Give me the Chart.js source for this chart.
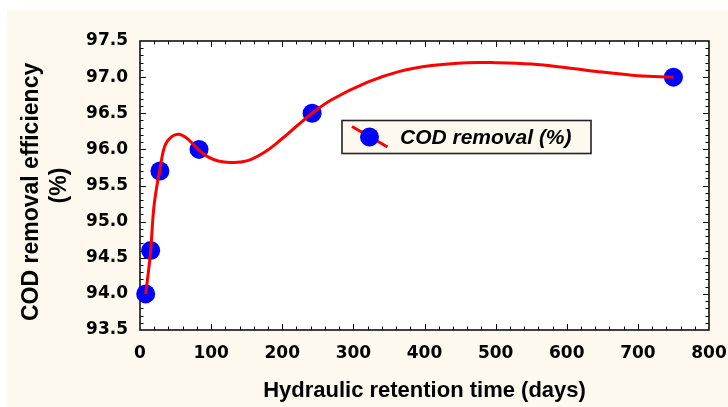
<!DOCTYPE html>
<html>
<head>
<meta charset="utf-8">
<script src="https://cdn.jsdelivr.net/npm/chart.js@4/dist/chart.umd.min.js"></script>
<style>
  html, body { margin: 0; padding: 0; background: #ffffff; }
  #wrap { width: 728px; height: 407px; }
</style>
</head>
<body>
<div id="wrap"><canvas id="c" width="728" height="407"></canvas></div>
<script>
// ---- data ----
const hrtDays    = [8, 15, 28, 83, 242, 750];
const codRemoval = [94.0, 94.6, 95.7, 96.0, 96.5, 97.0];

// fitted smooth curve
const fitDays    = [8, 12, 15, 19, 23, 28, 35, 45, 55, 65, 75, 83, 95, 110, 127, 150, 175, 200, 220, 242, 270, 320, 365, 410, 460, 500, 550, 600, 650, 700, 750];
const fitRemoval = [94.0, 94.32, 94.6, 95.15, 95.45, 95.72, 96.05, 96.18, 96.21, 96.16, 96.07, 95.99, 95.9, 95.84, 95.82, 95.84, 95.96, 96.15, 96.32, 96.50, 96.69, 96.93, 97.08, 97.16, 97.20, 97.20, 97.18, 97.13, 97.07, 97.02, 97.00];

const seriesLabel = 'COD removal (%)';
const xTitle = 'Hydraulic retention time (days)';
const yTitle = ['COD removal efficiency  ', '(%)'];
const xRange = [0, 800, 100, 20];      // min, max, major step, minor step
const yRange = [93.5, 97.5, 0.5, 0.1];

const BG = '#fdf9ee';
const TICK_FONT = { family: 'DejaVu Sans', weight: 'bold', size: 17 };
const TITLE_FONT = { family: 'Liberation Sans', weight: 'bold', size: 22 };

const decorPlugin = {
  id: 'decor',
  beforeDraw(chart) {
    const { ctx, width, height, chartArea: a } = chart;
    ctx.save();
    ctx.fillStyle = '#ffffff';
    ctx.fillRect(0, 0, width, height);
    ctx.fillStyle = BG;
    ctx.fillRect(7, 10, width - 7, height - 10);
    ctx.fillStyle = '#ffffff';
    ctx.fillRect(a.left, a.top, a.right - a.left, a.bottom - a.top);
    ctx.restore();
  },
  beforeDatasetsDraw(chart) {
    const { ctx, chartArea: a, scales } = chart;
    const xs = scales.x, ys = scales.y;
    ctx.save();
    ctx.strokeStyle = '#000000';
    ctx.lineWidth = 1;
    const nx = Math.round((xRange[1] - xRange[0]) / xRange[3]);
    const perX = Math.round(xRange[2] / xRange[3]);
    for (let i = 1; i < nx; i++) {
      const v = xRange[0] + i * xRange[3];
      const px = Math.round(xs.getPixelForValue(v)) + 0.5;
      const len = (i % perX === 0) ? 6 : 3.5;
      ctx.beginPath();
      ctx.moveTo(px, a.bottom); ctx.lineTo(px, a.bottom - len);
      ctx.moveTo(px, a.top); ctx.lineTo(px, a.top + len);
      ctx.stroke();
    }
    const ny = Math.round((yRange[1] - yRange[0]) / yRange[3]);
    const perY = Math.round(yRange[2] / yRange[3]);
    for (let i = 1; i < ny; i++) {
      const v = yRange[0] + i * yRange[3];
      const py = Math.round(ys.getPixelForValue(v)) + 0.5;
      const len = (i % perY === 0) ? 6 : 3.5;
      ctx.beginPath();
      ctx.moveTo(a.left, py); ctx.lineTo(a.left + len, py);
      ctx.moveTo(a.right, py); ctx.lineTo(a.right - len, py);
      ctx.stroke();
    }
    ctx.lineWidth = 1.6;
    ctx.strokeStyle = '#111111';
    ctx.strokeRect(a.left, a.top, a.right - a.left, a.bottom - a.top);
    ctx.restore();
  },
  afterDraw(chart) {
    const { ctx, chartArea: a } = chart;
    const ptsDs = chart.data.datasets[1];
    const lineDs = chart.data.datasets[0];
    const bx = a.left + 202, by = a.top + 79.5, bw = 249, bh = 33;
    ctx.save();
    ctx.fillStyle = BG;
    ctx.fillRect(bx, by, bw, bh);
    ctx.strokeStyle = '#222222';
    ctx.lineWidth = 1.6;
    ctx.strokeRect(bx, by, bw, bh);
    const cx = bx + 27.5, cy = by + 16.5;
    ctx.strokeStyle = lineDs.borderColor;
    ctx.lineWidth = 3;
    ctx.beginPath();
    ctx.moveTo(cx - 17.5, cy - 10.5);
    ctx.lineTo(cx + 18, cy + 10);
    ctx.stroke();
    ctx.fillStyle = ptsDs.backgroundColor;
    ctx.beginPath();
    ctx.arc(cx, cy, 9.5, 0, Math.PI * 2);
    ctx.fill();
    ctx.fillStyle = '#000000';
    ctx.font = 'italic bold 21px "Liberation Sans"';
    ctx.textBaseline = 'middle';
    ctx.textAlign = 'left';
    ctx.fillText(ptsDs.label, bx + 58, cy + 1);
    ctx.restore();
  }
};

new Chart(document.getElementById('c'), {
  type: 'line',
  data: {
    datasets: [
      {
        label: 'fit',
        data: fitDays.map((d, i) => ({ x: d, y: fitRemoval[i] })),
        borderColor: '#ff0000',
        borderWidth: 3,
        pointRadius: 0,
        tension: 0.4,
        fill: false,
        order: 0,
        clip: false
      },
      {
        label: seriesLabel,
        data: hrtDays.map((d, i) => ({ x: d, y: codRemoval[i] })),
        showLine: false,
        backgroundColor: '#0000ff',
        borderColor: '#0000ff',
        borderWidth: 0,
        pointRadius: 9.5,
        pointHoverRadius: 9.5,
        order: 1,
        clip: false
      }
    ]
  },
  options: {
    responsive: false,
    animation: false,
    devicePixelRatio: 1,
    layout: { autoPadding: false, padding: { top: 41, right: 19, bottom: 0, left: 0 } },
    plugins: { legend: { display: false }, tooltip: { enabled: false } },
    scales: {
      x: {
        type: 'linear',
        min: xRange[0], max: xRange[1],
        grid: { display: false, drawTicks: false },
        border: { display: false },
        ticks: { stepSize: xRange[2], color: '#000', font: TICK_FONT, padding: 13, maxRotation: 0 },
        title: { display: true, text: xTitle, color: '#000', font: TITLE_FONT, padding: { top: 0, bottom: 3 } },
        afterFit(s) { s.height = 77; s.paddingLeft = 0; s.paddingRight = 0; }
      },
      y: {
        type: 'linear',
        min: yRange[0], max: yRange[1],
        grid: { display: false, drawTicks: false },
        border: { display: false },
        ticks: { stepSize: yRange[2], color: '#000', font: TICK_FONT, padding: 12,
                 callback: v => Number(v).toFixed(1) },
        title: { display: true, text: yTitle, color: '#000',
                 font: { family: 'Liberation Sans', weight: 'bold', size: 23, lineHeight: 1.25 },
                 padding: { top: 17, bottom: 0 } },
        afterFit(s) { s.width = 140; s.paddingTop = 0; s.paddingBottom = 0; }
      }
    }
  },
  plugins: [decorPlugin]
});
</script>
</body>
</html>
